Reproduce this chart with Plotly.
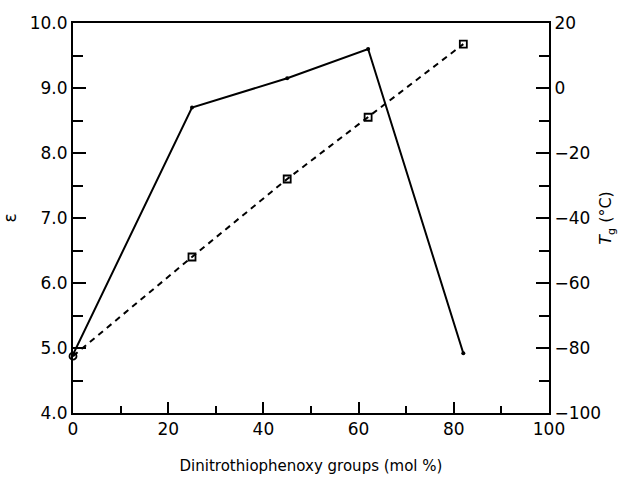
import plotly.graph_objects as go

x_mol = [0, 25, 45, 62, 82]
epsilon = [4.9, 8.7, 9.15, 9.6, 4.92]
tg = [-82.5, -52, -28, -9, 13.5]
tg_symbols = ["circle-open", "square-open", "square-open", "square-open", "square-open"]

left_ticks = [4, 5, 6, 7, 8, 9, 10]
left_labels = ["4.0", "5.0", "6.0", "7.0", "8.0", "9.0", "10.0"]
right_ticks = [-100, -80, -60, -40, -20, 0, 20]
right_labels = ["\u2212100", "\u221280", "\u221260", "\u221240", "\u221220", "0", "20"]
x_ticks = [0, 20, 40, 60, 80, 100]

fam = "DejaVu Sans, Liberation Sans, sans-serif"
tickfont = dict(family=fam, size=17, color="black")
titlefont = dict(family=fam, size=15, color="black")

fig = go.Figure()
fig.add_trace(go.Scatter(
    x=x_mol, y=epsilon, mode="lines+markers",
    line=dict(color="black", width=2),
    marker=dict(symbol="circle", size=4, color="black"),
    showlegend=False, cliponaxis=False,
))
fig.add_trace(go.Scatter(
    x=x_mol, y=tg, mode="lines+markers", yaxis="y2",
    line=dict(color="black", width=2, dash="6px,5px"),
    marker=dict(symbol=tg_symbols, size=7, color="black", line=dict(width=1.8, color="black")),
    showlegend=False, cliponaxis=False,
))

fig.update_layout(
    width=632, height=480,
    margin=dict(l=73, r=83, t=23, b=67),
    paper_bgcolor="white", plot_bgcolor="white",
    font=dict(family=fam, size=15, color="black"),
    xaxis=dict(
        range=[0, 100], tickvals=x_ticks, ticktext=[str(v) for v in x_ticks],
        tickfont=tickfont, automargin=False,
        showline=True, linecolor="black", linewidth=2, mirror=True,
        ticks="inside", ticklen=11, tickwidth=1.5, tickcolor="black",
        minor=dict(ticks="inside", dtick=10, ticklen=7, tickwidth=1.5, tickcolor="black"),
        showgrid=False, zeroline=False,
        title=dict(text="Dinitrothiophenoxy groups (mol %)", font=titlefont, standoff=22),
    ),
    yaxis=dict(
        range=[4, 10], tickvals=left_ticks, ticktext=left_labels,
        tickfont=tickfont, automargin=False,
        showline=True, linecolor="black", linewidth=2,
        ticks="inside", ticklen=13, tickwidth=1.5, tickcolor="black",
        minor=dict(ticks="inside", dtick=0.5, ticklen=10, tickwidth=1.5, tickcolor="black"),
        showgrid=False, zeroline=False,
        title=dict(text="\u03b5", font=dict(family=fam, size=17, color="black"), standoff=16),
    ),
    yaxis2=dict(
        range=[-100, 20], tickvals=right_ticks, ticktext=right_labels,
        tickfont=tickfont, automargin=False,
        overlaying="y", side="right",
        showline=True, linecolor="black", linewidth=2,
        ticks="inside", ticklen=13, tickwidth=1.5, tickcolor="black",
        minor=dict(ticks="inside", dtick=10, ticklen=10, tickwidth=1.5, tickcolor="black"),
        showgrid=False, zeroline=False,
        title=dict(text="<i>T</i><sub>g</sub> (\u00b0C)", font=dict(family=fam, size=16, color="black"), standoff=0),
    ),
)

fig.write_html("out.html")
